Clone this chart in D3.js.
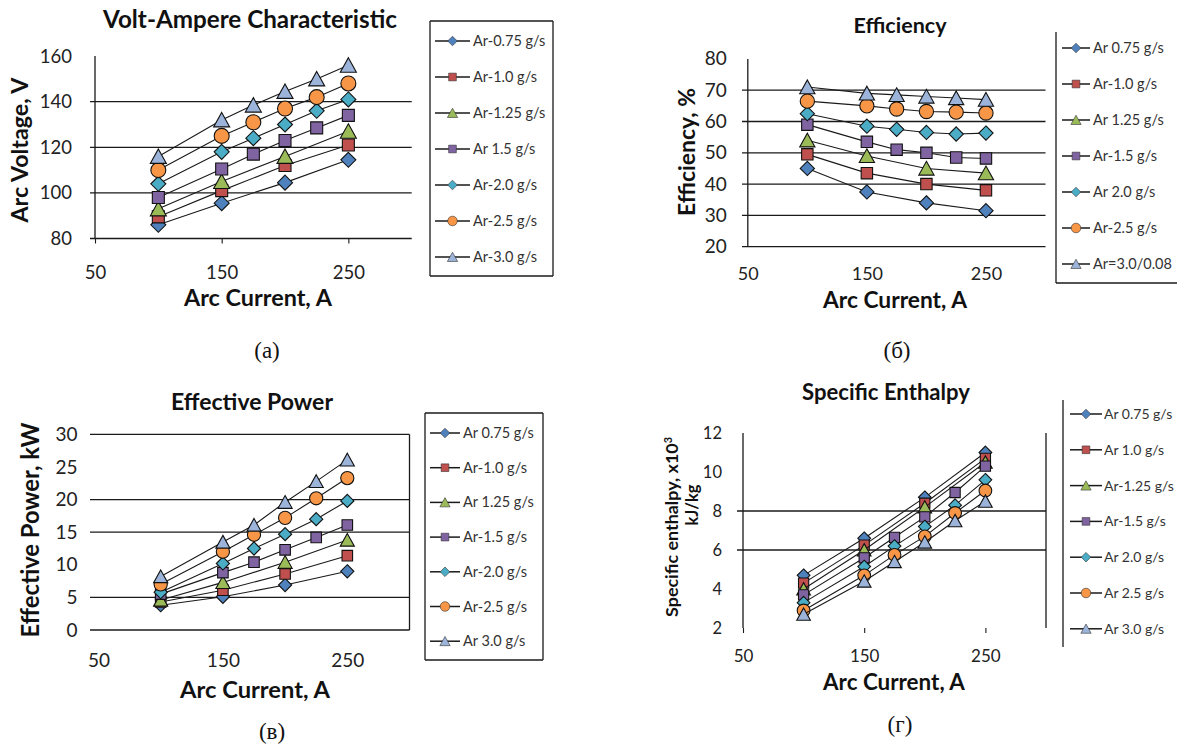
<!DOCTYPE html>
<html>
<head>
<meta charset="utf-8">
<script src="https://cdn.jsdelivr.net/npm/d3@7"></script>
<style>
  body { margin: 0; background: #fff; }
  svg { display: block; }
</style>
</head>
<body>
<svg id="fig" width="1177" height="746"></svg>
<script>
// ---- Arc current grid (A) ----
const currentsShort = [100, 150, 200, 250];
const currentsLong = [100, 150, 175, 200, 225, 250];
const xTickValues = [50, 150, 250];

// ---- Volt-ampere characteristic, V ----
const voltage075 = [86, 95.5, 104.5, 114.5];
const voltage100 = [89.5, 101, 112, 121];
const voltage125 = [93, 105, 116, 127];
const voltage150 = [98, 110.5, 117, 123, 128.5, 134];
const voltage200 = [104, 118, 124, 130, 136, 141];
const voltage250 = [110, 125, 131, 137, 142, 148];
const voltage300 = [116, 132, 138.5, 144.5, 150, 156];
const voltageTicks = [80, 100, 120, 140, 160];
const voltageGrid = [100, 120, 140];

// ---- Efficiency, % ----
const eff075 = [45, 37.5, 34, 31.5];
const eff100 = [49.5, 43.5, 40, 38];
const eff125 = [54, 49, 45, 43.5];
const eff150 = [59, 53.5, 51, 50, 48.5, 48.2];
const eff200 = [62.5, 58.5, 57.5, 56.5, 56, 56.3];
const eff250 = [66.5, 65, 64, 63.2, 63, 62.7];
const eff300 = [71, 69, 68.5, 68, 67.5, 67];
const effTicks = [20, 30, 40, 50, 60, 70, 80];
const effGrid = [30, 40, 50, 60, 70];

// ---- Effective power, kW ----
const pow075 = [3.8, 5.1, 6.9, 9.0];
const pow100 = [4.3, 6.1, 8.6, 11.4];
const pow125 = [4.6, 7.3, 10.4, 13.8];
const pow150 = [5.5, 8.8, 10.4, 12.3, 14.2, 16.1];
const pow200 = [5.8, 10.2, 12.5, 14.7, 17, 19.8];
const pow250 = [7, 12, 14.6, 17.2, 20.2, 23.3];
const pow300 = [8.2, 13.5, 16.1, 19.6, 22.8, 26.1];
const powTicks = [0, 5, 10, 15, 20, 25, 30];
const powGrid = [5, 15, 20];

// ---- Specific enthalpy, x10^3 kJ/kg ----
const ent075 = [4.7, 6.6, 8.7, 11.0];
const ent100 = [4.3, 6.25, 8.4, 10.7];
const ent125 = [4.0, 6.0, 8.2, 10.5];
const ent150 = [3.7, 5.6, 6.65, 7.7, 8.95, 10.3];
const ent200 = [3.3, 5.15, 6.2, 7.2, 8.3, 9.6];
const ent250 = [2.9, 4.7, 5.75, 6.7, 7.9, 9.05];
const ent300 = [2.7, 4.4, 5.4, 6.4, 7.5, 8.5];
const entTicks = [2, 4, 6, 8, 10, 12];
const entGrid = [6, 8];

// ---- Legend texts ----
const legendA = ["Ar-0.75 g/s", "Ar-1.0 g/s", "Ar-1.25 g/s", "Ar 1.5 g/s", "Ar-2.0 g/s", "Ar-2.5 g/s", "Ar-3.0 g/s"];
const legendB = ["Ar 0.75 g/s", "Ar-1.0 g/s", "Ar 1.25 g/s", "Ar-1.5 g/s", "Ar 2.0 g/s", "Ar-2.5 g/s", "Ar=3.0/0.08"];
const legendC = ["Ar 0.75 g/s", "Ar-1.0 g/s", "Ar 1.25 g/s", "Ar-1.5 g/s", "Ar-2.0 g/s", "Ar-2.5 g/s", "Ar 3.0 g/s"];
const legendD = ["Ar 0.75 g/s", "Ar 1.0 g/s", "Ar-1.25 g/s", "Ar-1.5 g/s", "Ar 2.0 g/s", "Ar 2.5 g/s", "Ar 3.0 g/s"];

// ---- Series styling ----
const seriesColors = ["#4F81BD", "#C0504D", "#9BBB59", "#8064A2", "#4BACC6", "#F79646", "#9DB4DA"];
const seriesShapes = ["diamond", "square", "triangle", "square", "diamond", "circle", "triangle"];

const svg = d3.select("#fig");
const FONT = "Lato, 'Open Sans', sans-serif";
const INK = "#1a1a1a";

function markerPath(shape, s) {
  switch (shape) {
    case "diamond": return `M0,${-s}L${s},0L0,${s}L${-s},0Z`;
    case "square": { const h = s * 0.8; return `M${-h},${-h}H${h}V${h}H${-h}Z`; }
    case "triangle": { const w = s * 1.07, t = s, b = s * 0.93; return `M0,${-t}L${w},${b}L${-w},${b}Z`; }
    default: return `M${s},0A${s},${s} 0 1,1 ${-s},0A${s},${s} 0 1,1 ${s},0Z`;
  }
}

function fitWidth(sel, width) {
  const w = sel.node().getComputedTextLength();
  if (w > 0) sel.attr("font-size", parseFloat(sel.attr("font-size")) * width / w);
  return sel;
}

function hline(g, x1, x2, yv) {
  g.append("line").attr("x1", x1).attr("x2", x2).attr("y1", yv).attr("y2", yv)
    .attr("stroke", INK).attr("stroke-width", 1.3);
}
function vline(g, xv, y1, y2) {
  g.append("line").attr("x1", xv).attr("x2", xv).attr("y1", y1).attr("y2", y2)
    .attr("stroke", INK).attr("stroke-width", 1.3);
}

function drawPanel(c) {
  const g = svg.append("g");
  const x = d3.scaleLinear().domain([50, 300]).range(c.xRange);
  const y = d3.scaleLinear().domain(c.yDomain).range(c.yRange);
  const y0 = y(c.yDomain[0]), y1 = y(c.yDomain[1]);
  const xl = x(50), xr = x(300);

  // gridlines and frame
  c.grid.forEach(v => hline(g, c.gridLeft, xr, y(v)));
  if (c.xAxisLine) hline(g, c.gridLeft, xr, y0);
  if (c.topLine) hline(g, c.gridLeft, xr, y1);
  if (c.yAxisLine) vline(g, xl, y1, y0);
  if (c.rightLine) vline(g, xr, y1, y0);

  // y tick labels
  const ya = g.append("g").attr("transform", `translate(${xl},0)`)
    .call(d3.axisLeft(y).tickValues(c.yTicks).tickSize(0).tickPadding(c.yPad));
  ya.select(".domain").remove();
  ya.selectAll("text").attr("font-family", FONT).attr("font-size", c.yFs).attr("fill", "#222");

  // x tick labels (with short outside ticks where shown)
  const xa = g.append("g").attr("transform", `translate(0,${y0})`)
    .call(d3.axisBottom(x).tickValues(xTickValues).tickSize(c.xTickLen).tickSizeOuter(0));
  xa.select(".domain").remove();
  xa.selectAll(".tick line").attr("stroke", INK).attr("stroke-width", 1.1);
  xa.selectAll("text").attr("font-family", FONT).attr("font-size", c.xFs).attr("fill", "#222")
    .attr("y", c.xBase - y0).attr("dy", null);

  // series: black connecting line, then coloured markers
  c.series.forEach((vals, i) => {
    const xs = vals.length === 4 ? currentsShort : currentsLong;
    const pts = vals.map((v, k) => [xs[k], v]);
    g.append("path").datum(pts)
      .attr("d", d3.line().x(d => x(d[0])).y(d => y(d[1])))
      .attr("fill", "none").attr("stroke", INK).attr("stroke-width", 1.1);
    g.append("g").selectAll("path").data(pts).join("path")
      .attr("transform", d => `translate(${x(d[0])},${y(d[1])})`)
      .attr("d", markerPath(seriesShapes[i], 7.5 * c.mScale))
      .attr("fill", seriesColors[i]).attr("stroke", "#111").attr("stroke-width", 1.1);
  });

  // title
  fitWidth(svg.append("text").attr("x", c.title.cx).attr("y", c.title.base)
    .attr("text-anchor", "middle").attr("font-family", FONT).attr("font-weight", "bold")
    .attr("font-size", 20).attr("fill", "#111").text(c.title.text), c.title.w);

  // x axis title
  fitWidth(svg.append("text").attr("x", c.xLabel.cx).attr("y", c.xLabel.base)
    .attr("text-anchor", "middle").attr("font-family", FONT).attr("font-weight", "bold")
    .attr("font-size", 20).attr("fill", "#111").text("Arc Current, A"), c.xLabel.w);

  // y axis title (rotated)
  c.yLabel.forEach(l => {
    const t = svg.append("text")
      .attr("transform", `translate(${l.cx},${l.cy}) rotate(-90)`)
      .attr("text-anchor", "middle").attr("dy", "0.35em")
      .attr("font-family", FONT).attr("font-weight", "bold")
      .attr("font-size", l.fs || 20).attr("fill", "#111");
    t.text(l.text);
    if (l.sup) t.append("tspan").attr("baseline-shift", "super").attr("font-size", "60%").text(l.sup);
    if (l.w) fitWidth(t, l.w);
  });

  // legend
  const L = c.legend;
  const lg = svg.append("g");
  const b = L.box;
  if (b.sides.includes("l")) vline(lg, b.x1, b.y1, b.y2);
  if (b.sides.includes("r")) vline(lg, b.x2, b.y1, b.y2);
  if (b.sides.includes("t")) hline(lg, b.x1, b.x2, b.y1);
  if (b.sides.includes("b")) hline(lg, b.x1, b.x2, b.y2);
  L.labels.forEach((txt, i) => {
    const yy = L.y0 + i * L.dy;
    lg.append("line").attr("x1", L.sx1).attr("x2", L.sx2).attr("y1", yy).attr("y2", yy)
      .attr("stroke", INK).attr("stroke-width", 1.5);
    lg.append("path").attr("transform", `translate(${(L.sx1 + L.sx2) / 2},${yy})`)
      .attr("d", markerPath(seriesShapes[i], 4.8))
      .attr("fill", seriesColors[i]).attr("stroke", "#333").attr("stroke-width", 0.6);
    lg.append("text").attr("x", L.tx).attr("y", yy).attr("dy", "0.35em")
      .attr("font-family", FONT).attr("font-size", L.fs).attr("fill", "#333").text(txt);
  });
}

drawPanel({
  yDomain: [80, 160], xRange: [95, 411.7], yRange: [238.5, 56.1],
  grid: voltageGrid, gridLeft: 90, yTicks: voltageTicks,
  xAxisLine: true, yAxisLine: true, topLine: false, rightLine: false,
  yPad: 23, yFs: 18.5, xFs: 18.5, xTickLen: 5, xBase: 279, mScale: 1.0,
  series: [voltage075, voltage100, voltage125, voltage150, voltage200, voltage250, voltage300],
  title: { text: "Volt-Ampere Characteristic", cx: 250, base: 28, w: 294 },
  xLabel: { cx: 258, base: 306, w: 148 },
  yLabel: [{ text: "Arc Voltage, V", cx: 20, cy: 150, w: 145 }],
  legend: { labels: legendA, y0: 41, dy: 36, sx1: 435, sx2: 470, tx: 473, fs: 14.5,
    box: { x1: 430, y1: 21, x2: 553, y2: 276, sides: "lrtb" } }
});

drawPanel({
  yDomain: [20, 80], xRange: [747.8, 1045.5], yRange: [246.7, 58.9],
  grid: effGrid, gridLeft: 742, yTicks: effTicks,
  xAxisLine: true, yAxisLine: true, topLine: false, rightLine: false,
  yPad: 21, yFs: 19, xFs: 18, xTickLen: 0, xBase: 280, mScale: 0.95,
  series: [eff075, eff100, eff125, eff150, eff200, eff250, eff300],
  title: { text: "Efficiency", cx: 900, base: 33, w: 93 },
  xLabel: { cx: 895, base: 308, w: 144 },
  yLabel: [{ text: "Efficiency, %", cx: 687, cy: 152, w: 128 }],
  legend: { labels: legendB, y0: 48, dy: 36, sx1: 1062, sx2: 1090, tx: 1093, fs: 14.5,
    box: { x1: 1056, y1: 32, x2: 1180, y2: 283, sides: "lb" } }
});

drawPanel({
  yDomain: [0, 30], xRange: [98.5, 409.5], yRange: [630, 434.4],
  grid: powGrid, gridLeft: 90, yTicks: powTicks,
  xAxisLine: true, yAxisLine: false, topLine: true, rightLine: true,
  yPad: 21, yFs: 19, xFs: 19, xTickLen: 0, xBase: 667, mScale: 0.88,
  series: [pow075, pow100, pow125, pow150, pow200, pow250, pow300],
  title: { text: "Effective Power", cx: 252, base: 410, w: 162 },
  xLabel: { cx: 255, base: 698, w: 150 },
  yLabel: [{ text: "Effective Power, kW", cx: 31, cy: 530, w: 215 }],
  legend: { labels: legendC, y0: 433, dy: 34.7, sx1: 430, sx2: 460, tx: 463, fs: 14.5,
    box: { x1: 425, y1: 413, x2: 543, y2: 660, sides: "lrtb" } }
});

drawPanel({
  yDomain: [2, 12], xRange: [743, 1046], yRange: [628, 433],
  grid: entGrid, gridLeft: 737, yTicks: entTicks,
  xAxisLine: false, yAxisLine: true, topLine: false, rightLine: true,
  yPad: 21, yFs: 16.5, xFs: 17, xTickLen: 5, xBase: 662, mScale: 0.85,
  series: [ent075, ent100, ent125, ent150, ent200, ent250, ent300],
  title: { text: "Specific Enthalpy", cx: 886, base: 400, w: 168 },
  xLabel: { cx: 894, base: 690, w: 142 },
  yLabel: [
    { text: "Specific enthalpy, x10", sup: "3", cx: 672, cy: 527, w: 180 },
    { text: "kJ/kg", cx: 692, cy: 505, fs: 16.5 }
  ],
  legend: { labels: legendD, y0: 414, dy: 35.8, sx1: 1070, sx2: 1102, tx: 1104, fs: 14,
    box: { x1: 1063, y1: 400, x2: 1180, y2: 647, sides: "l" } }
});

// sub-figure captions
const captions = [
  { t: "(а)", x: 267, y: 358 },
  { t: "(б)", x: 897, y: 358 },
  { t: "(в)", x: 272, y: 739 },
  { t: "(г)", x: 900, y: 732 }
];
svg.selectAll("text.caption").data(captions).join("text").attr("class", "caption")
  .attr("x", d => d.x).attr("y", d => d.y).attr("text-anchor", "middle")
  .attr("font-family", "'Liberation Serif', 'DejaVu Serif', serif").attr("font-size", 23)
  .attr("fill", "#111").text(d => d.t);
</script>
</body>
</html>
